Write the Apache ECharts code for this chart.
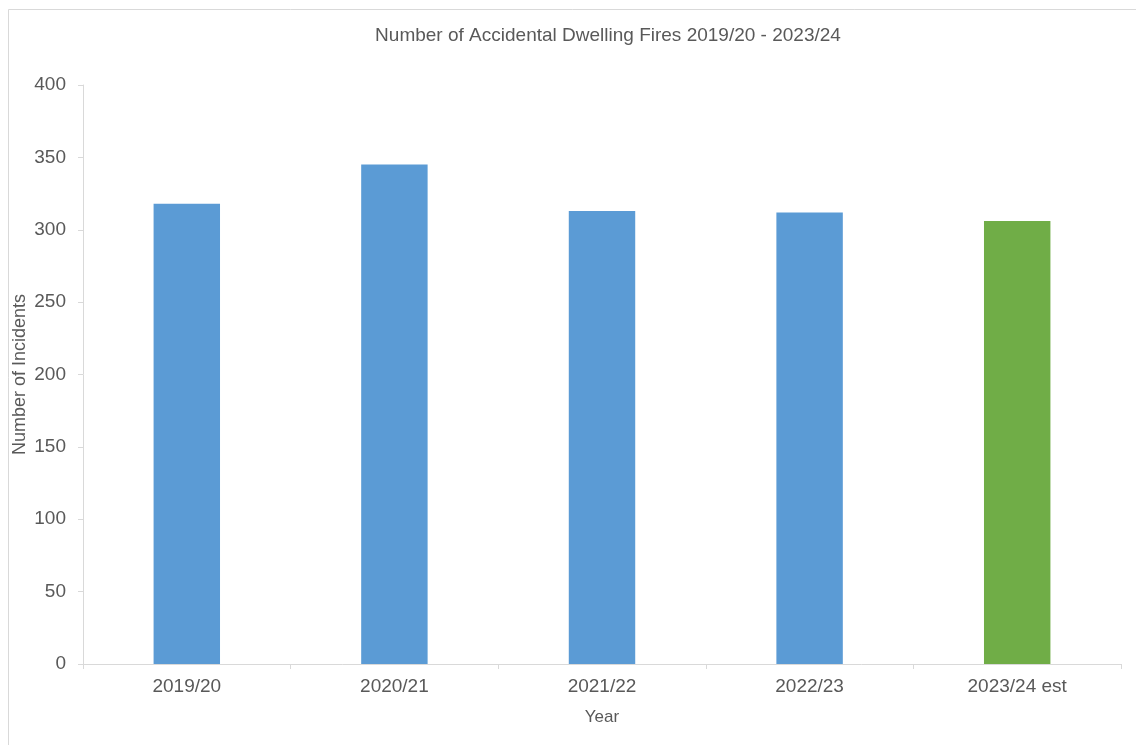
<!DOCTYPE html>
<html>
<head>
<meta charset="utf-8">
<script src="https://cdn.jsdelivr.net/npm/echarts@6/dist/echarts.min.js"></script>
<style>
html,body{margin:0;padding:0;background:#fff;}
#chart{width:1136px;height:745px;}
</style>
</head>
<body>
<div id="chart"></div>
<script>
const categories = ['2019/20', '2020/21', '2021/22', '2022/23', '2023/24 est'];
const values = [318, 345, 313, 312, 306];
const barColors = ['#5B9BD5', '#5B9BD5', '#5B9BD5', '#5B9BD5', '#70AD47'];
const yTicks = [0, 50, 100, 150, 200, 250, 300, 350, 400];

const chart = echarts.init(document.getElementById('chart'));
const font = '"Liberation Sans", Arial, sans-serif';
chart.setOption({
  animation: false,
  backgroundColor: '#fff',
  graphic: [{
    type: 'rect', left: 6, top: 7,
    shape: { width: 1200, height: 800 },
    style: { fill: 'none', stroke: '#d9d9d9', lineWidth: 1 },
    silent: true
  }],
  title: {
    text: 'Number of Accidental Dwelling Fires 2019/20 - 2023/24',
    left: 603, top: 21, textAlign: 'center',
    textStyle: { fontFamily: font, fontSize: 19, fontWeight: 'normal', color: '#595959' }
  },
  grid: { left: 83, right: 15, top: 85, bottom: 81 },
  xAxis: {
    type: 'category',
    data: categories,
    name: 'Year', nameLocation: 'middle', nameGap: 45,
    nameMoveOverlap: false,
    nameTextStyle: { fontFamily: font, fontSize: 17, color: '#595959' },
    axisLine: { lineStyle: { color: '#d9d9d9', width: 1 } },
    axisTick: { show: true, length: 5, lineStyle: { color: '#d9d9d9' } },
    axisLabel: { fontFamily: font, fontSize: 19, color: '#595959', margin: 13 }
  },
  yAxis: {
    type: 'value', min: yTicks[0], max: yTicks[yTicks.length - 1], interval: 50,
    name: 'Number of Incidents', nameLocation: 'middle', nameGap: 54, nameRotate: 90,
    nameMoveOverlap: false,
    nameTextStyle: { fontFamily: font, fontSize: 18, color: '#595959' },
    axisLine: { show: true, lineStyle: { color: '#d9d9d9', width: 1 } },
    axisTick: { show: true, length: 5, lineStyle: { color: '#d9d9d9' } },
    splitLine: { show: false },
    axisLabel: { fontFamily: font, fontSize: 19, color: '#595959', margin: 17 }
  },
  series: [{
    type: 'bar',
    barWidth: '32%',
    data: values.map((v, i) => ({ value: v, itemStyle: { color: barColors[i] } }))
  }]
});
</script>
</body>
</html>
